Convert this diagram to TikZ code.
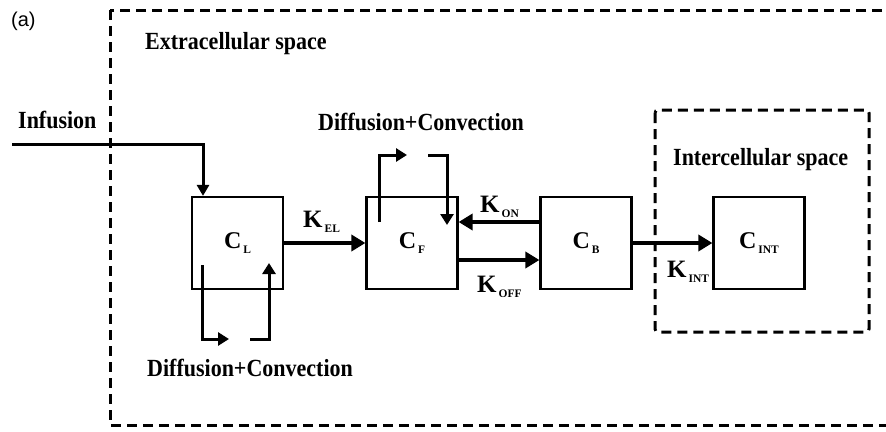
\documentclass[tikz,border=0pt]{standalone}
\usepackage{fontspec}
\setmainfont{Liberation Serif}
\newfontfamily\labelsans{Liberation Sans}
\usetikzlibrary{arrows.meta}
\newcommand\sbx[1]{\kern2pt\raisebox{-5pt}{\fontsize{11.5}{11.5}\selectfont #1}}
\newcommand\tall[1]{\scalebox{1}[1.12]{#1}}
\tikzset{
  cbox/.style={draw, line width=2.2pt, minimum width=91pt, minimum height=92pt, inner sep=0pt,
    font=\fontsize{24}{24}\selectfont\bfseries},
  karrow/.style={line width=3.8pt, -{Triangle[length=14pt,width=16pt]}},
  darrow/.style={line width=3pt, -{Triangle[length=11pt,width=13pt]}},
  iarrow/.style={line width=3pt, -{Triangle[length=11pt,width=12pt]}},
  zone/.style={line width=3pt, dash pattern=on 10pt off 6pt},
  lbl/.style={anchor=base west, inner sep=0pt, font=\fontsize{22}{22}\selectfont\bfseries},
  klbl/.style={anchor=base west, inner sep=0pt, font=\fontsize{25}{25}\selectfont\bfseries},
}
\begin{document}
\begin{tikzpicture}[x=1pt,y=-1pt]
\clip (0,0) rectangle (886,431);
% zones
\draw[zone] (110,10) rectangle (905,425);
\draw[zone,rounded corners=3pt] (655,110) rectangle (869,332);
% boxes
\node[cbox] (CL) at (237.5,243) {C\sbx{L}};
\node[cbox] (CF) at (412,243) {C\sbx{F}};
\node[cbox] (CB) at (586,243) {C\sbx{B}};
\node[cbox] (CINT) at (759,243) {C\sbx{INT}};
% labels
\node[anchor=base west, inner sep=0pt, font=\labelsans\fontsize{20}{20}\selectfont] (a) at (11,26) {(a)};
\node[lbl] (extra) at (145,49) {\tall{Extracellular space}};
\node[lbl] (inter) at (673,165) {\tall{Intercellular space}};
\node[lbl] (infl) at (18,128) {\tall{Infusion}};
\node[lbl] (dctop) at (318,130) {\tall{Diffusion+Convection}};
\node[lbl] (dcbot) at (147,376) {\tall{Diffusion+Convection}};
\node[klbl] (kel) at (303,227) {K\sbx{EL}};
\node[klbl] (kon) at (480,212) {K\sbx{ON}};
\node[klbl] (koff) at (477,292) {K\sbx{OFF}};
\node[klbl] (kint) at (667,277) {K\sbx{INT}};
% infusion
\coordinate (inf) at (12,144);
\draw[iarrow] (inf) -| ([xshift=-34.5pt]CL.north);
% rate arrows
\draw[karrow] (CL) -- (CF);
\draw[karrow] ([yshift=21pt]CB.west) -- ([yshift=21pt]CF.east);
\draw[karrow] ([yshift=-17pt]CF.east) -- ([yshift=-17pt]CB.west);
\draw[karrow] (CB) -- (CINT);
% diffusion arrows top (C_F)
\coordinate (t1) at (379,222);
\coordinate (t2) at (407,155);
\coordinate (t3) at (428,155);
\coordinate (t4) at (447,225);
\draw[darrow] (t1) |- (t2);
\draw[darrow] (t3) -| (t4);
% diffusion arrows bottom (C_L)
\coordinate (b1) at (202,265);
\coordinate (b2) at (229,339);
\coordinate (b3) at (250,339);
\coordinate (b4) at (269,263);
\draw[darrow] (b1) |- (b2);
\draw[darrow] (b3) -| (b4);
\end{tikzpicture}
\end{document}
